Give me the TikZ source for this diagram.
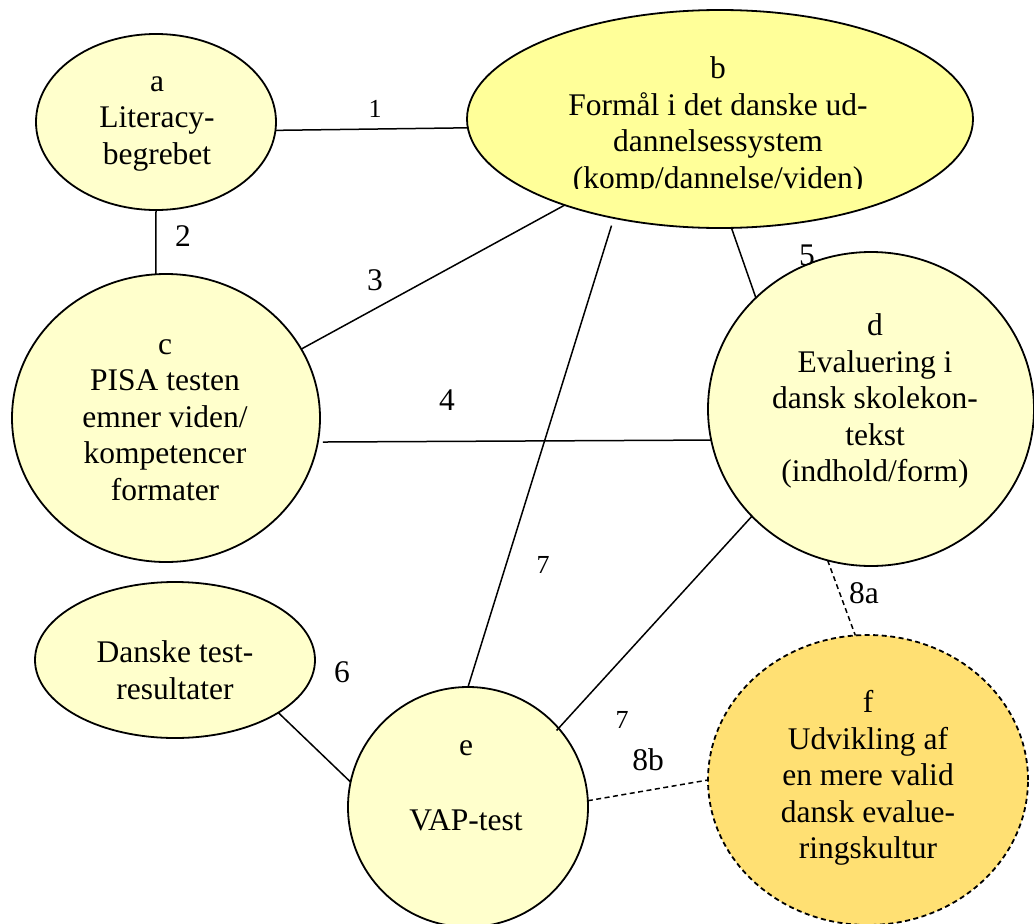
\documentclass[tikz,border=0pt]{standalone}
\usepackage{fontspec}
\setmainfont{Liberation Serif}
\usetikzlibrary{shapes.geometric}
\definecolor{paleyellow}{HTML}{FFFFCC}
\definecolor{brightyellow}{HTML}{FFFF99}
\definecolor{goldfill}{HTML}{FFE073}
\begin{document}
\begin{tikzpicture}[x=1pt,y=-1pt,
  bubble/.style={ellipse, draw=black, line width=1.8pt, fill=paleyellow, inner sep=0pt, outer sep=0pt},
  txt/.style={font=\fontsize{31.5}{36.5}\selectfont, align=center, inner sep=0pt},
  lbl/.style={font=\fontsize{31.5}{36.5}\selectfont, inner sep=0pt},
  smalllbl/.style={font=\fontsize{26}{30}\selectfont, inner sep=0pt},
  link/.style={line width=1.5pt},
  dlink/.style={line width=1.5pt, dash pattern=on 5pt off 3.5pt},
]
\useasboundingbox (0,0) rectangle (1034,924);
% shapes
\node[bubble, minimum width=240pt, minimum height=176pt] (a) at (156,122) {};
\node[bubble, fill=brightyellow, minimum width=506pt, minimum height=218pt] (b) at (720,119) {};
\node[bubble, minimum width=308pt, minimum height=288pt] (c) at (166,418) {};
\node[bubble, minimum width=326pt, minimum height=314pt] (d) at (871,409) {};
\node[bubble, minimum width=280pt, minimum height=156pt] (g) at (175,660) {};
\node[bubble, minimum width=240pt, minimum height=240pt] (e) at (468,807) {};
\node[bubble, fill=goldfill, dash pattern=on 5pt off 3.5pt, minimum width=320pt, minimum height=290pt] (f) at (868,780) {};
% texts
\node[txt] (at) at (157,124) {a\\Literacy-\\begrebet};
\begin{scope}
  \clip (467,0) rectangle (973,188);
  \node[txt] (bt) at (718,126) {b\\Formål i det danske ud-\\dannelsessystem\\(komp/dannelse/viden)};
\end{scope}
\node[txt] (ct) at (165,420) {c\\PISA testen\\emner viden/\\kompetencer\\formater};
\node[txt] (dt) at (875,401) {d\\Evaluering i\\dansk skolekon-\\tekst\\(indhold/form)};
\node[txt] (gt) at (175,670) {Danske test-\\resultater};
\node[txt] (et) at (466,786) {e\\[38pt]VAP-test};
\node[txt] (ft) at (868,778) {f\\Udvikling af\\en mere valid\\dansk evalue-\\ringskultur};
% connectors
\draw[link] (a.356.2) -- (b.182.5);
\draw[link] (a.south) -- (c.94);
\draw[link] (c.27) -- (b.209);
\draw[link, shorten <=5pt] (c.351) -- (d.191.7);
\draw[link] (b.276.8) -- (d.136.3);
\draw[link, shorten <=8pt] (b.223.5) -- (e.north);
\draw[link, shorten >=-3pt] (d.222.6) -- (e.41.6);
\draw[link] (g.333.4) -- (e.168.1);
\draw[dlink] (d.254.3) -- (f.95.9);
\draw[dlink] (e.3.8) -- (f.west);
% labels
\node[smalllbl] (l1) at (375,109) {1};
\node[lbl] (l2) at (183,236) {2};
\node[lbl] (l3) at (375,280) {3};
\node[lbl] (l4) at (447,400) {4};
\node[lbl] (l5) at (807,255) {5};
\node[lbl] (l6) at (342,672) {6};
\node[smalllbl] (l7a) at (543,565) {7};
\node[smalllbl] (l7b) at (622,720) {7};
\node[lbl] (l8a) at (864,593) {8a};
\node[lbl] (l8b) at (648,760) {8b};
\end{tikzpicture}
\end{document}
